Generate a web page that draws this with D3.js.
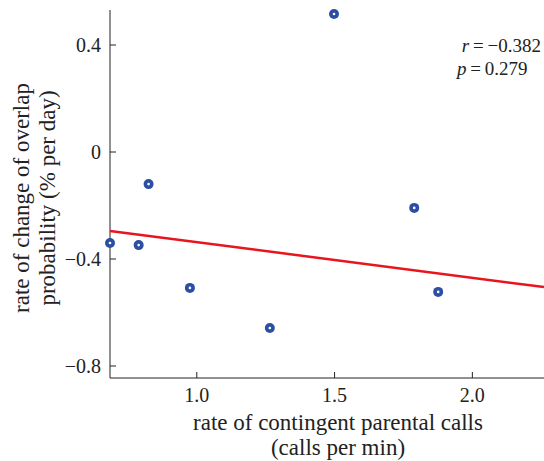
<!DOCTYPE html><html><head><meta charset="utf-8"><script src="https://d3js.org/d3.v7.min.js"></script>
<style>body{margin:0;background:#fff}svg text{font-family:"Liberation Serif","Times New Roman","DejaVu Serif",serif;fill:#222}</style></head><body><svg width="544" height="461"></svg><script>
const xs=[0.685,0.789,0.825,0.975,1.265,1.498,1.789,1.876];
const ys=[-0.34,-0.348,-0.12,-0.508,-0.658,0.516,-0.209,-0.523];
const fitX=[0.685,2.26], fitY=[-0.295,-0.505];
const xTicks=[1.0,1.5,2.0], yTicks=[0.4,0,-0.4,-0.8];
const svg=d3.select("svg");
const x=d3.scaleLinear().domain([0.685,2.26]).range([110,544]);
const y=d3.scaleLinear().domain([0,0.4]).range([152,45]);
const g=svg.append("g");
g.append("line").attr("x1",110).attr("x2",110).attr("y1",10).attr("y2",378).attr("stroke","#222");
g.append("line").attr("x1",110).attr("x2",544).attr("y1",378).attr("y2",378).attr("stroke","#222");
xTicks.forEach(t=>{g.append("line").attr("x1",x(t)).attr("x2",x(t)).attr("y1",378).attr("y2",372).attr("stroke","#222");
g.append("text").attr("x",x(t)).attr("y",402).attr("text-anchor","middle").attr("font-size",20).text(t.toFixed(1));});
yTicks.forEach(t=>{g.append("line").attr("x1",110).attr("x2",116).attr("y1",y(t)).attr("y2",y(t)).attr("stroke","#222");
g.append("text").attr("x",101).attr("y",y(t)+7).attr("text-anchor","end").attr("font-size",20).text(t===0?"0":(t<0?"\u2212":"")+Math.abs(t).toFixed(1));});
svg.append("line").attr("x1",x(fitX[0])).attr("x2",x(fitX[1])).attr("y1",y(fitY[0])).attr("y2",y(fitY[1])).attr("stroke","#e8141e").attr("stroke-width",2.5);
xs.forEach((v,i)=>{svg.append("circle").attr("cx",x(v)).attr("cy",y(ys[i])).attr("r",5).attr("fill","#2d4fa3");
svg.append("circle").attr("cx",x(v)).attr("cy",y(ys[i])).attr("r",1.3).attr("fill","#fff");});
svg.append("text").attr("x",338).attr("y",430).attr("text-anchor","middle").attr("font-size",23).text("rate of contingent parental calls");
svg.append("text").attr("x",338).attr("y",455).attr("text-anchor","middle").attr("font-size",23).text("(calls per min)");
const yl=svg.append("text").attr("transform","translate(0,198) rotate(-90)").attr("text-anchor","middle").attr("font-size",23);
yl.append("tspan").attr("x",0).attr("y",29).text("rate of change of overlap");
yl.append("tspan").attr("x",0).attr("y",55).text("probability (% per day)");
const s1=svg.append("text").attr("x",541).attr("y",52).attr("text-anchor","end").attr("font-size",19);
s1.append("tspan").attr("font-style","italic").text("r");s1.append("tspan").text("\u2009=\u2009\u22120.382");
const s2=svg.append("text").attr("x",457).attr("y",75).attr("font-size",19);
s2.append("tspan").attr("font-style","italic").text("p");s2.append("tspan").text("\u2009=\u20090.279");
</script></body></html>
